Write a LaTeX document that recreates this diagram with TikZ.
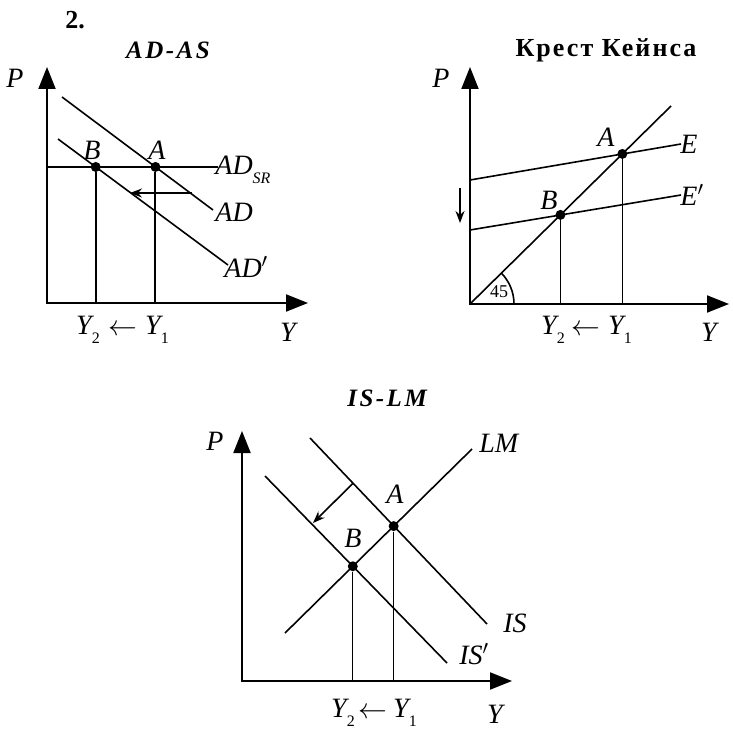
\documentclass[tikz,border=0pt]{standalone}
\usepackage{fontspec}
\setmainfont{Liberation Serif}
\usetikzlibrary{arrows.meta,positioning,calc}
\tikzset{
 axis/.style={line width=1pt,{Triangle[length=11pt,width=8.5pt]}-{Triangle[length=11pt,width=8.5pt]}},
 curve/.style={line width=0.8pt},
 guide/.style={line width=1pt},
 thinguide/.style={line width=0.4pt},
 shiftarrow/.style={line width=0.8pt,-{Stealth[length=6pt,width=4.5pt]}},
 dot/.style={circle,fill,inner sep=0pt,minimum size=5pt},
 lbl/.style={font=\fontsize{14}{16}\selectfont\itshape,inner sep=1pt},
 ttl/.style={font=\fontsize{12.5}{15}\selectfont\bfseries\itshape\addfontfeatures{LetterSpace=10}}
}
\newcommand{\lowsub}[1]{\raisebox{-0.75ex}{\fontsize{8}{8}\selectfont #1}}

\begin{document}
\begin{tikzpicture}[x=0.5pt,y=-0.5pt]
\useasboundingbox (0,0) rectangle (732,732);

% AD-AS
\node[font=\fontsize{13}{15}\selectfont\bfseries] (num) at (75,20) {2.};
\node[ttl] (ttlADAS) at (168,50) {AD-AS};
\coordinate (O1) at (47,303);
\coordinate (P1) at (47,67);
\coordinate (Yax1) at (308,303);
\draw[axis] (P1) -- (O1) -- (Yax1);
\node[lbl] (labP1) at (15,78) {P};
\node[lbl] (labY1) at (288,332) {Y};
\coordinate (ad1s) at (62,97);
\coordinate (ad1e) at (213,210);
\coordinate (adp1s) at (58,139);
\coordinate (adp1e) at (228,265);
\coordinate (sr1s) at (47,167);
\coordinate (sr1e) at (218,167);
\draw[curve] (ad1s) -- (ad1e);
\draw[curve] (adp1s) -- (adp1e);
\draw[curve] (sr1s) -- (sr1e);
\node[dot] (A1) at ($(ad1s)!0.619!(ad1e)$) {};
\node[dot] (B1) at ($(adp1s)!0.222!(adp1e)$) {};
\draw[guide] (A1) -- (A1 |- O1);
\draw[guide] (B1) -- (B1 |- O1);
\coordinate (sh1s) at (192,193);
\coordinate (sh1e) at (130,193);
\draw[shiftarrow] (sh1s) -- (sh1e);
\node[lbl] (labA1) at (157,150) {A};
\node[lbl] (labB1) at (92,150) {B};
\node[lbl,anchor=west] (labSR) at (213,170) {AD\lowsub{SR}};
\node[lbl,anchor=west] (labAD) at (213,212) {AD};
\node[lbl,anchor=west] (labADp) at (222,267) {AD$'$};
\node[lbl] (labY2a) at (88,330) {Y\lowsub{\upshape 2}};
\node[lbl] (arra) at (123,330) {$\leftarrow$};
\node[lbl] (labY1a) at (157,330) {Y\lowsub{\upshape 1}};

% Keynes cross
\node[font=\fontsize{13}{15}\selectfont\bfseries\addfontfeatures{LetterSpace=8}] (ttlKC) at (606,50) {Крест Кейнса};
\coordinate (O2) at (470,304);
\coordinate (P2) at (470,67);
\coordinate (Yax2) at (729,304);
\draw[axis] (P2) -- (O2) -- (Yax2);
\node[lbl] (labP2) at (441,78) {P};
\node[lbl] (labY2) at (709,332) {Y};
\coordinate (d2e) at (671,106);
\coordinate (e2s) at (470,180);
\coordinate (e2e) at (681,144);
\coordinate (ep2s) at (470,230);
\coordinate (ep2e) at (681,195);
\draw[curve] (O2) -- (d2e);
\draw[curve] (e2s) -- (e2e);
\draw[curve] (ep2s) -- (ep2e);
\draw[curve] ($(O2)+(44,0)$) arc[start angle=0,end angle=45,radius=22pt];
\node[font=\fontsize{9}{10}\selectfont] (ang) at (499,292) {45};
\node[dot] (A2) at ($(O2)!0.758!(d2e)$) {};
\node[dot] (B2) at ($(O2)!0.45!(d2e)$) {};
\draw[thinguide] (A2) -- (A2 |- O2);
\draw[thinguide] (B2) -- (B2 |- O2);
\coordinate (sh2s) at (460,188);
\coordinate (sh2e) at (460,223);
\draw[shiftarrow] (sh2s) -- (sh2e);
\node[lbl] (labA2) at (606,137) {A};
\node[lbl] (labB2) at (549,200) {B};
\node[lbl,anchor=west] (labE) at (678,144) {E};
\node[lbl,anchor=west] (labEp) at (678,195) {E$'$};
\node[lbl] (labY2b) at (553,330) {Y\lowsub{\upshape 2}};
\node[lbl] (arrb) at (586,330) {$\leftarrow$};
\node[lbl] (labY1b) at (620,330) {Y\lowsub{\upshape 1}};

% IS-LM
\node[ttl] (ttlISLM) at (387,398) {IS-LM};
\coordinate (O3) at (242,681);
\coordinate (P3) at (242,431);
\coordinate (Yax3) at (512,681);
\draw[axis] (P3) -- (O3) -- (Yax3);
\node[lbl] (labP3) at (215,441) {P};
\node[lbl] (labY3) at (495,714) {Y};
\coordinate (lm3s) at (285,633);
\coordinate (lm3e) at (472,449);
\coordinate (is3s) at (310,438);
\coordinate (is3e) at (487,624);
\coordinate (isp3s) at (265,476);
\coordinate (isp3e) at (447,663);
\draw[curve] (lm3s) -- (lm3e);
\draw[curve] (is3s) -- (is3e);
\draw[curve] (isp3s) -- (isp3e);
\node[dot] (A3) at ($(lm3s)!0.581!(lm3e)$) {};
\node[dot] (B3) at ($(lm3s)!0.3626!(lm3e)$) {};
\draw[thinguide] (A3) -- (A3 |- O3);
\draw[thinguide] (B3) -- (B3 |- O3);
\coordinate (sh3s) at ($(is3s)!0.243!(is3e)$);
\coordinate (sh3e) at (313,523);
\draw[shiftarrow] (sh3s) -- (sh3e);
\node[lbl] (labA3) at (395,494) {A};
\node[lbl] (labB3) at (353,538) {B};
\node[lbl,anchor=west] (labLM) at (477,443) {LM};
\node[lbl,anchor=west] (labIS) at (501,623) {IS};
\node[lbl,anchor=west] (labISp) at (457,654) {IS$'$};
\node[lbl] (labY2c) at (343,713) {Y\lowsub{\upshape 2}};
\node[lbl] (arrc) at (373,713) {$\leftarrow$};
\node[lbl] (labY1c) at (405,713) {Y\lowsub{\upshape 1}};
\end{tikzpicture}
\end{document}
